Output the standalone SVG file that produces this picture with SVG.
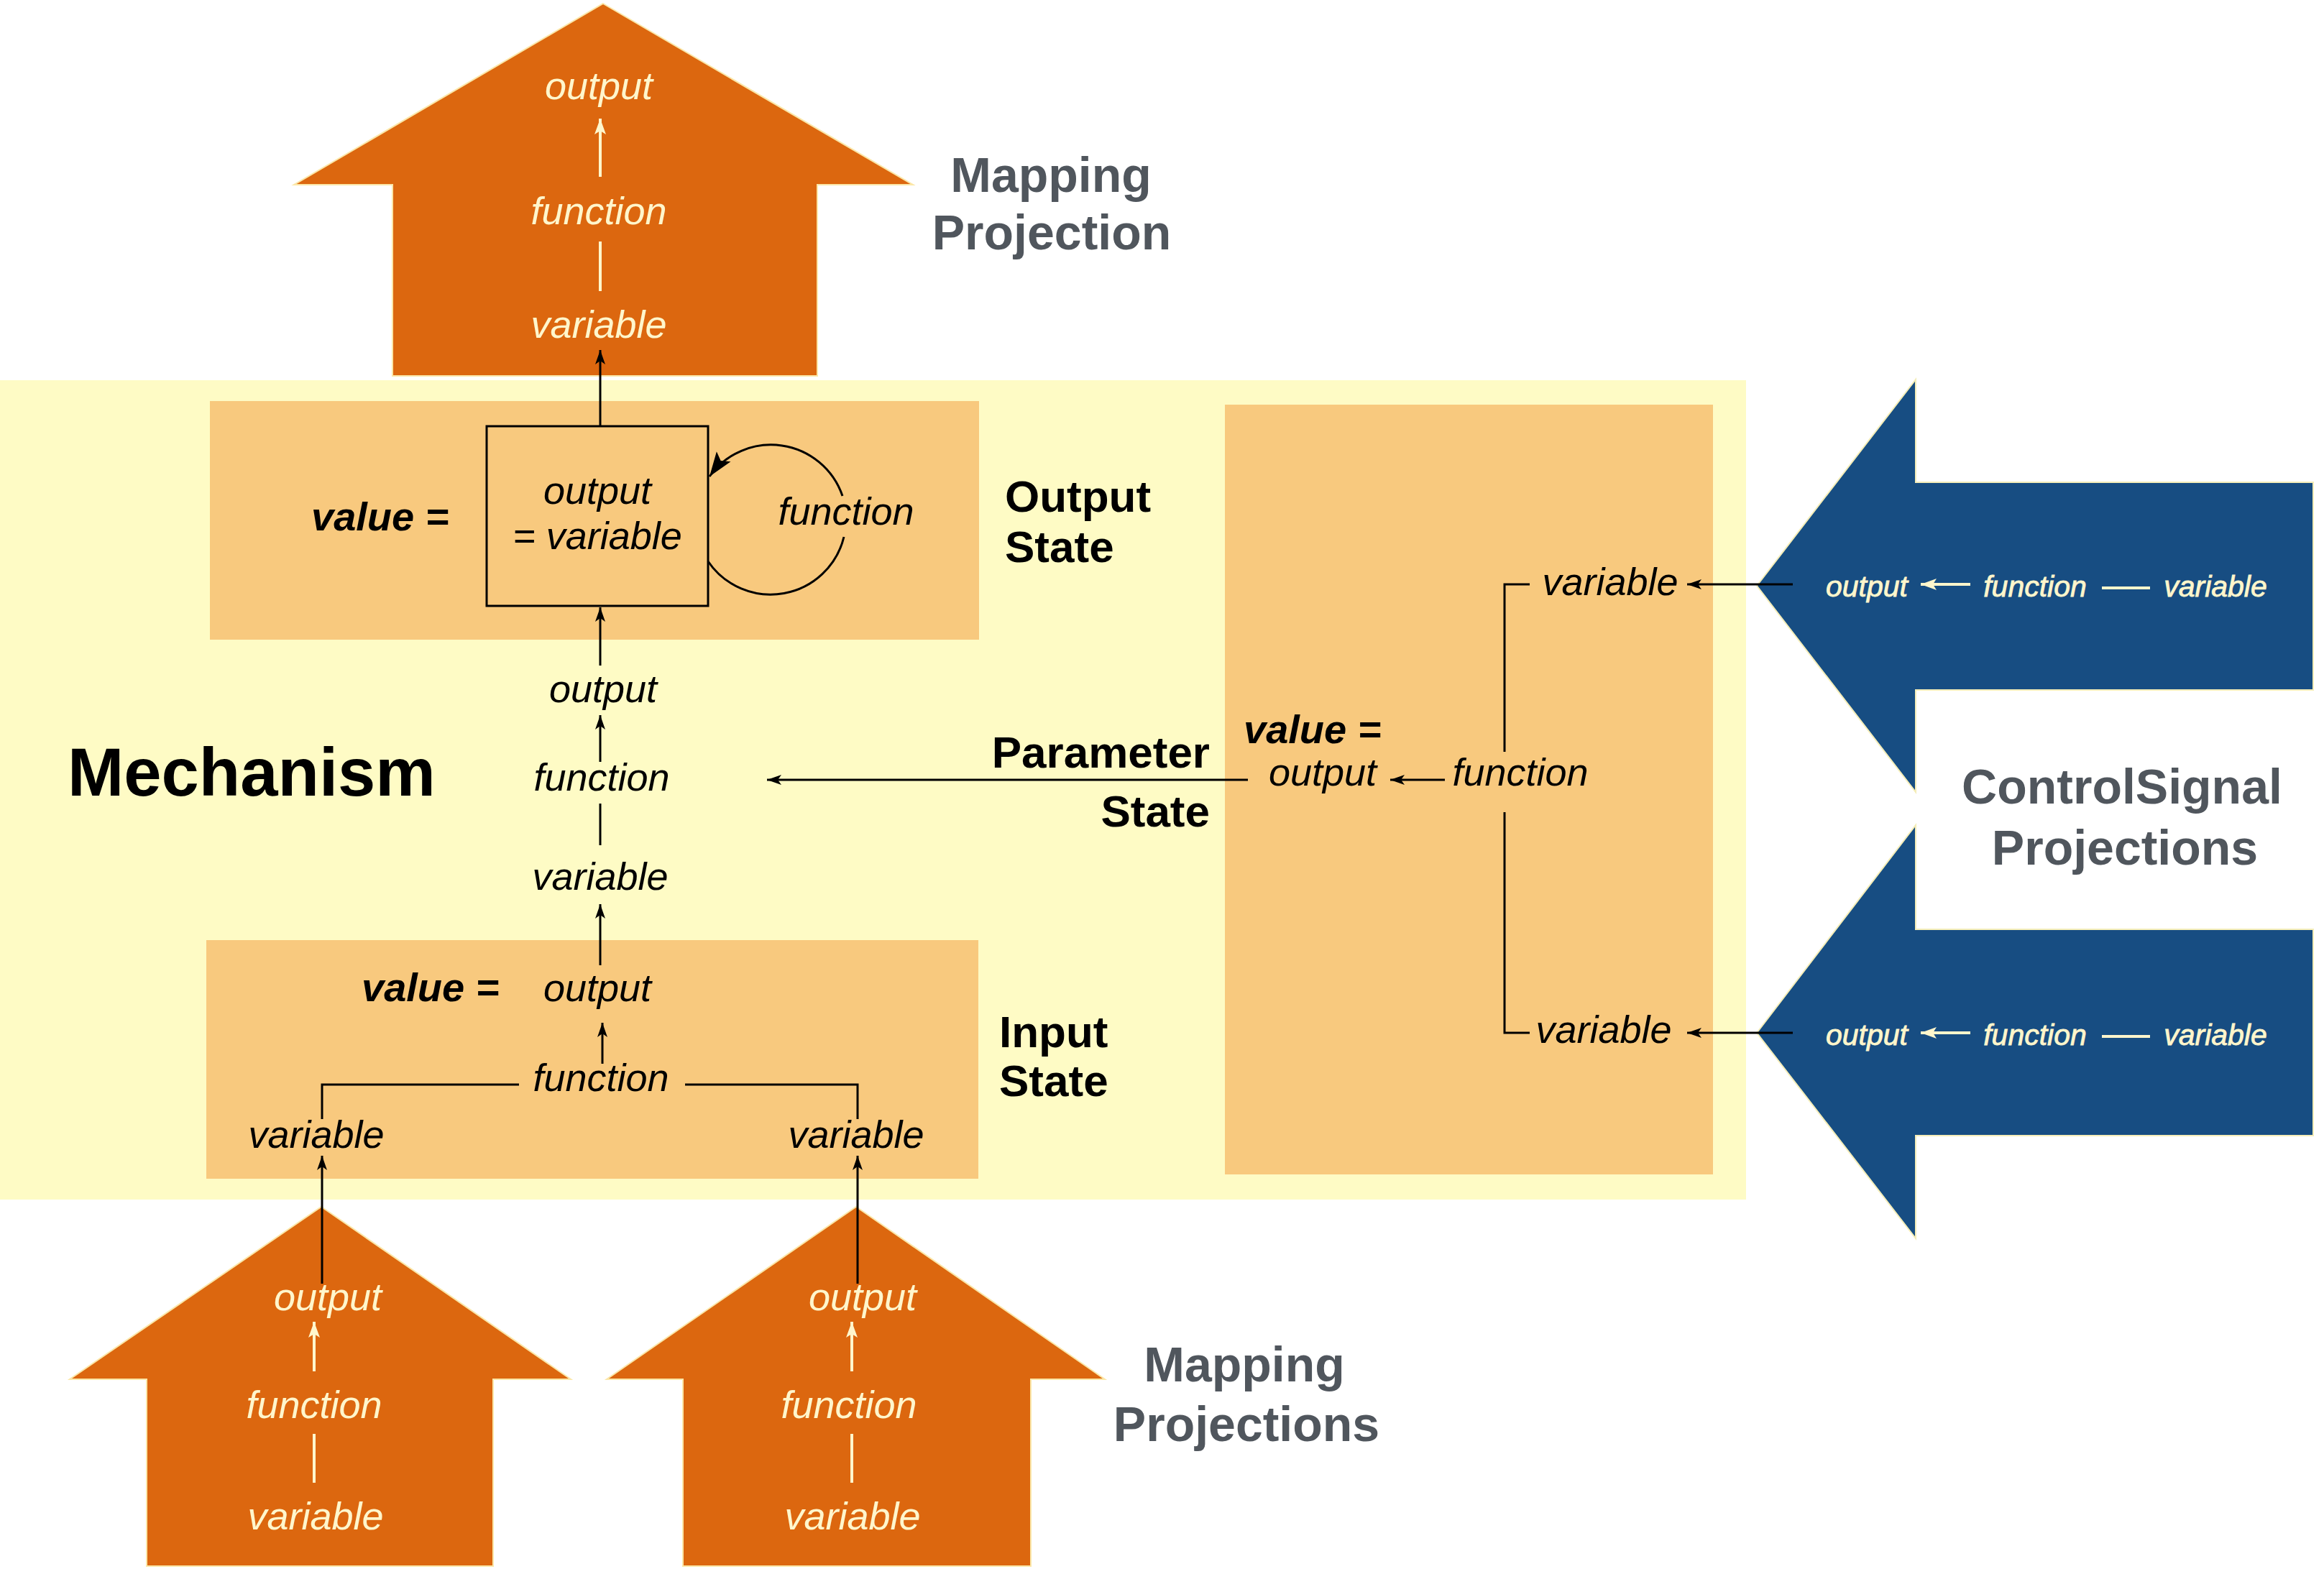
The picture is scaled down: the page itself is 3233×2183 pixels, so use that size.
<svg xmlns="http://www.w3.org/2000/svg" width="3233" height="2183" viewBox="0 0 3233 2183">
<defs>
<style>
.bg{fill:#FEFBC5}
.box{fill:#F8C97E}
.orange{fill:#DC670F;stroke:#FBE7A8;stroke-width:2}
.blue{fill:#174D82;stroke:#F4EDB8;stroke-width:2}
.ln{stroke:#000;stroke-width:3;fill:none}
.cl{stroke:#FFF6CC;stroke-width:4;fill:none}
.it{font-family:"Liberation Sans",Arial,sans-serif;font-style:italic;font-size:54px;fill:#000}
.bi{font-family:"Liberation Sans",Arial,sans-serif;font-style:italic;font-weight:bold;font-size:56px;fill:#000}
.lbl{font-family:"Liberation Sans",Arial,sans-serif;font-weight:bold;font-size:62px;fill:#000}
.gray{font-family:"Liberation Sans",Arial,sans-serif;font-weight:bold;font-size:68px;fill:#50565D}
.cit{font-family:"Liberation Sans",Arial,sans-serif;font-style:italic;font-size:54px;fill:#FFF6CC}
.bit{font-family:"Liberation Sans",Arial,sans-serif;font-style:italic;font-size:41px;fill:#FFF6CC;stroke:#FFF6CC;stroke-width:0.8}
</style>
<marker id="ab" markerUnits="userSpaceOnUse" markerWidth="22" markerHeight="16" refX="20" refY="8" orient="auto"><path d="M0,1 L20,8 L0,15 L5,8 z" fill="#000"/></marker>
<marker id="abig" markerUnits="userSpaceOnUse" markerWidth="36" markerHeight="26" refX="34" refY="13" orient="auto"><path d="M0,1 L34,13 L0,25 L7,13 z" fill="#000"/></marker>
<marker id="ac" markerUnits="userSpaceOnUse" markerWidth="24" markerHeight="18" refX="22" refY="9" orient="auto"><path d="M0,1 L22,9 L0,17 L5,9 z" fill="#FFF6CC"/></marker>
</defs>
<rect x="0" y="0" width="3233" height="2183" fill="#FFFFFF"/>

<g id="mechanism">
<rect class="bg" x="0" y="529" width="2429" height="1140"/>
<text class="lbl" x="94" y="1107" style="font-size:94px">Mechanism</text>
</g>

<g id="mapping-projection-top">
<polygon class="orange" points="839,5 1270,257 1137,257 1137,523 546,523 546,257 409,257"/>
<text class="cit" x="833" y="138" text-anchor="middle">output</text>
<text class="cit" x="833" y="312" text-anchor="middle">function</text>
<text class="cit" x="833" y="470" text-anchor="middle">variable</text>
<text class="gray" x="1462" y="267" text-anchor="middle">Mapping</text>
<text class="gray" x="1463" y="347" text-anchor="middle">Projection</text>
</g>

<g id="output-state">
<rect class="box" x="292" y="558" width="1070" height="332"/>
<rect x="677" y="593" width="308" height="250" fill="none" stroke="#000" stroke-width="3"/>
<text class="bi" x="433" y="738">value =</text>
<text class="it" x="831" y="701" text-anchor="middle">output</text>
<text class="it" x="831" y="764" text-anchor="middle">= variable</text>
<text class="it" x="1177" y="730" text-anchor="middle">function</text>
<text class="lbl" x="1398" y="712">Output</text>
<text class="lbl" x="1398" y="782">State</text>
</g>

<g id="mechanism-function">
<text class="it" x="839" y="977" text-anchor="middle">output</text>
<text class="it" x="837" y="1100" text-anchor="middle">function</text>
<text class="it" x="835" y="1238" text-anchor="middle">variable</text>
</g>

<g id="input-state">
<rect class="box" x="287" y="1308" width="1074" height="332"/>
<text class="bi" x="503" y="1393">value =</text>
<text class="it" x="831" y="1393" text-anchor="middle">output</text>
<text class="it" x="836" y="1518" text-anchor="middle">function</text>
<text class="it" x="440" y="1597" text-anchor="middle">variable</text>
<text class="it" x="1191" y="1597" text-anchor="middle">variable</text>
<text class="lbl" x="1390" y="1457">Input</text>
<text class="lbl" x="1390" y="1525">State</text>
</g>

<g id="parameter-state">
<rect class="box" x="1704" y="563" width="679" height="1071"/>
<text class="lbl" x="1683" y="1068" text-anchor="end">Parameter</text>
<text class="lbl" x="1683" y="1150" text-anchor="end">State</text>
<text class="bi" x="1730" y="1034">value =</text>
<text class="it" x="1840" y="1093" text-anchor="middle">output</text>
<text class="it" x="2115" y="1093" text-anchor="middle">function</text>
<text class="it" x="2240" y="828" text-anchor="middle">variable</text>
<text class="it" x="2231" y="1451" text-anchor="middle">variable</text>
</g>

<g id="control-signal-1">
<polygon class="blue" points="2444,815 2665,528 2665,671 3218,671 3218,960 2665,960 2665,1102"/>
<text class="bit" x="2597" y="830" text-anchor="middle">output</text>
<text class="bit" x="2831" y="830" text-anchor="middle">function</text>
<text class="bit" x="3082" y="830" text-anchor="middle">variable</text>
</g>

<g id="control-signal-2">
<polygon class="blue" points="2444,1437 2665,1148 2665,1293 3218,1293 3218,1580 2665,1580 2665,1723"/>
<text class="bit" x="2597" y="1454" text-anchor="middle">output</text>
<text class="bit" x="2831" y="1454" text-anchor="middle">function</text>
<text class="bit" x="3082" y="1454" text-anchor="middle">variable</text>
<text class="gray" x="2952" y="1118" text-anchor="middle">ControlSignal</text>
<text class="gray" x="2956" y="1203" text-anchor="middle">Projections</text>
</g>

<g id="mapping-projection-left">
<polygon class="orange" points="447,1679 794,1919 686,1919 686,2179 204,2179 204,1919 97,1919"/>
<text class="cit" x="456" y="1823" text-anchor="middle">output</text>
<text class="cit" x="437" y="1973" text-anchor="middle">function</text>
<text class="cit" x="439" y="2128" text-anchor="middle">variable</text>
</g>

<g id="mapping-projection-right">
<polygon class="orange" points="1191,1679 1537,1919 1434,1919 1434,2179 950,2179 950,1919 844,1919"/>
<text class="cit" x="1200" y="1823" text-anchor="middle">output</text>
<text class="cit" x="1181" y="1973" text-anchor="middle">function</text>
<text class="cit" x="1186" y="2128" text-anchor="middle">variable</text>
<text class="gray" x="1731" y="1922" text-anchor="middle">Mapping</text>
<text class="gray" x="1734" y="2005" text-anchor="middle">Projections</text>
</g>

<g id="connectors">
<line class="ln" x1="835" y1="593" x2="835" y2="487" marker-end="url(#ab)"/>
<line class="ln" x1="835" y1="926" x2="835" y2="845" marker-end="url(#ab)"/>
<line class="ln" x1="835" y1="1060" x2="835" y2="995" marker-end="url(#ab)"/>
<line class="ln" x1="835" y1="1118" x2="835" y2="1176"/>
<line class="ln" x1="835" y1="1343" x2="835" y2="1258" marker-end="url(#ab)"/>
<line class="ln" x1="838" y1="1480" x2="838" y2="1423" marker-end="url(#ab)"/>
<path class="ln" d="M722,1509 H448 V1557 M953,1509 H1193 V1557"/>
<line class="ln" x1="448" y1="1786" x2="448" y2="1608" marker-end="url(#ab)"/>
<line class="ln" x1="1193" y1="1786" x2="1193" y2="1608" marker-end="url(#ab)"/>
<line class="ln" x1="1736" y1="1085" x2="1067" y2="1085" marker-end="url(#ab)"/>
<line class="ln" x1="2010" y1="1085" x2="1934" y2="1085" marker-end="url(#ab)"/>
<path class="ln" d="M2128,813 H2093 V1046 M2093,1130 V1437 H2128"/>
<line class="ln" x1="2494" y1="813" x2="2347" y2="813" marker-end="url(#ab)"/>
<line class="ln" x1="2494" y1="1437" x2="2347" y2="1437" marker-end="url(#ab)"/>
<path class="ln" d="M985,781 A105,105 0 0 0 1174,747"/>
<path class="ln" d="M1172,690 A105,105 0 0 0 987,663" marker-end="url(#abig)"/>
<line class="cl" x1="835" y1="246" x2="835" y2="165" marker-end="url(#ac)"/>
<line class="cl" x1="835" y1="336" x2="835" y2="405"/>
<line class="cl" x1="437" y1="1908" x2="437" y2="1839" marker-end="url(#ac)"/>
<line class="cl" x1="437" y1="1995" x2="437" y2="2063"/>
<line class="cl" x1="1185" y1="1908" x2="1185" y2="1839" marker-end="url(#ac)"/>
<line class="cl" x1="1185" y1="1995" x2="1185" y2="2063"/>
<line class="cl" x1="2741" y1="813" x2="2672" y2="813" marker-end="url(#ac)"/>
<line class="cl" x1="2924" y1="818" x2="2991" y2="818"/>
<line class="cl" x1="2741" y1="1437" x2="2672" y2="1437" marker-end="url(#ac)"/>
<line class="cl" x1="2924" y1="1442" x2="2991" y2="1442"/>
</g>
</svg>
